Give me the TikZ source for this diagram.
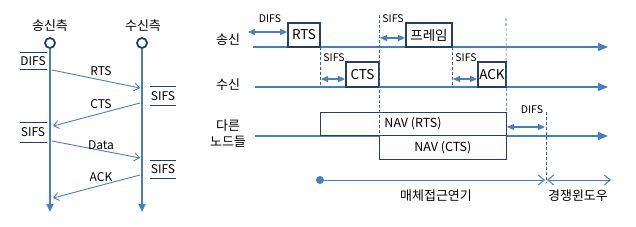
\documentclass[tikz,border=0pt]{standalone}
\usepackage{fontspec}
\setmainfont{Noto Sans CJK KR}
\usetikzlibrary{arrows.meta}
\definecolor{lineblue}{HTML}{4A7EBB}
\definecolor{boxnavy}{HTML}{243F60}
\tikzset{
  lbl/.style={font=\fontsize{13}{13}\selectfont,inner sep=0pt},
  small/.style={font=\fontsize{12}{12}\selectfont,inner sep=0pt},
  tiny/.style={font=\fontsize{10.5}{10.5}\selectfont,inner sep=0pt},
  msg/.style={lineblue,line width=0.9pt,-{Straight Barb[length=5pt,width=8pt]}},
  life/.style={lineblue,line width=2pt,-{Triangle[length=8pt,width=7pt]}},
  gap/.style={boxnavy,line width=0.8pt},
  axis/.style={lineblue,line width=1.2pt,-{Triangle[length=10pt,width=8pt]}},
  span/.style={lineblue,line width=1.2pt,{Triangle[length=7pt,width=6pt]}-{Triangle[length=7pt,width=6pt]}},
  frame/.style={draw=boxnavy,line width=1.8pt,inner sep=0pt,font=\fontsize{13.5}{13.5}\selectfont},
  nav/.style={draw=boxnavy,line width=0.8pt,inner sep=0pt,font=\fontsize{12.5}{12.5}\selectfont},
  vmark/.style={lineblue!80!black,line width=0.6pt,dash pattern=on 3pt off 2pt},
  openspan/.style={lineblue,line width=1pt,{Straight Barb[length=6pt,width=10pt]}-{Straight Barb[length=6pt,width=10pt]}}
}
\begin{document}
\begin{tikzpicture}[x=1pt,y=-1pt]
\useasboundingbox (0,0) rectangle (636,227);
% sender / receiver lifelines
\node[lbl] (snd) at (50,26) {송신측};
\node[lbl] (rcv) at (143,26) {수신측};
\node[circle,draw=boxnavy,line width=1.8pt,minimum size=10pt,inner sep=0pt] (sc) at (50,43) {};
\node[circle,draw=boxnavy,line width=1.8pt,minimum size=10pt,inner sep=0pt] (rc) at (142,43) {};
\coordinate (send) at (50,212);
\coordinate (rend) at (142,212);
\draw[life] (sc) -- (send);
\draw[life] (rc) -- (rend);
% interframe spaces
\draw[gap] (20,52) -- (47,52) (20,69) -- (47,69);
\node[small] (difsl) at (33,61) {DIFS};
\draw[gap] (150,86) -- (176,86) (150,105) -- (176,105);
\node[small] (sifsr1) at (163,96) {SIFS};
\draw[gap] (20,122) -- (47,122) (20,142) -- (47,142);
\node[small] (sifsl) at (33,132) {SIFS};
\draw[gap] (150,160) -- (176,160) (150,178) -- (176,178);
\node[small] (sifsr2) at (163,169) {SIFS};
% messages
\coordinate (m1a) at (52,70); \coordinate (m1b) at (140,88);
\coordinate (m2a) at (140,103); \coordinate (m2b) at (53,126);
\coordinate (m3a) at (52,141); \coordinate (m3b) at (140,158);
\coordinate (m4a) at (140,175); \coordinate (m4b) at (53,198);
\draw[msg] (m1a) -- (m1b);
\draw[msg] (m2a) -- (m2b);
\draw[msg] (m3a) -- (m3b);
\draw[msg] (m4a) -- (m4b);
\node[small] (rts) at (101,71) {RTS};
\node[small] (cts) at (101,104) {CTS};
\node[small] (data) at (101,145) {Data};
\node[small] (ack) at (101,177) {ACK};
% timing diagram
\node[lbl] (tx) at (228,40) {송신};
\node[lbl] (rx) at (228,85) {수신};
\node[lbl,align=center] (oth) at (228,134) {다른\\[3pt]노드들};
\coordinate (txa) at (253,47); \coordinate (txb) at (608,47);
\coordinate (rxa) at (255,87); \coordinate (rxb) at (608,87);
\coordinate (ota) at (255,136); \coordinate (otb) at (608,136);
\draw[axis] (txa) -- (txb);
\draw[axis] (rxa) -- (rxb);
\draw[axis] (ota) -- (otb);
% frames
\node[frame,fill=white,minimum width=32pt,minimum height=24pt] (rtsf) at (304,35) {RTS};
\node[frame,fill=white,minimum width=33pt,minimum height=25pt] (ctsf) at (362.5,74.5) {CTS};
\node[frame,fill=white,minimum width=46pt,minimum height=24pt] (frm) at (429,35) {프레임};
\node[frame,fill=white,minimum width=28pt,minimum height=25pt] (ackf) at (492,74.5) {ACK};
\node[nav,fill=white,minimum width=186pt,minimum height=23pt] (navr) at (413,123.5) {NAV (RTS)};
\node[nav,fill=white,minimum width=127pt,minimum height=24pt,anchor=north west] (navc) at (navr.south west -| 379,0) {NAV (CTS)};
% dashed markers
\draw[vmark] (320,47) -- (320,87);
\draw[vmark] (379,15) -- (navc.north west);
\draw[vmark] (452,47) -- (452,87);
\draw[vmark] (506,18) -- (navr.north east);
\draw[vmark] (546,112) -- (546,183);
% spacing arrows
\draw[span] (248,32) -- (rtsf.west |- 0,32);
\node[tiny] (d1) at (270,19) {DIFS};
\draw[span] (321,79) -- (ctsf.west |- 0,79);
\node[tiny] (s1) at (334,58) {SIFS};
\draw[span] (380,38) -- (frm.west |- 0,38);
\node[tiny] (s2) at (393,19) {SIFS};
\draw[span] (453,79) -- (ackf.west |- 0,79);
\node[tiny] (s3) at (466,58) {SIFS};
\draw[span] (507,127) -- (545,127);
\node[tiny] (d2) at (532,110) {DIFS};
% medium access deferral and contention window
\fill[lineblue] (320,180) circle[radius=4];
\coordinate (dfa) at (320,180); \coordinate (dfb) at (545,180);
\coordinate (cwb) at (611,180);
\draw[lineblue,line width=1pt,-{Straight Barb[length=6pt,width=10pt]}] (dfa) -- (dfb);
\draw[openspan] (547,180) -- (cwb);
\node[lbl] (defer) at (436,196) {매체접근연기};
\node[lbl] (cw) at (578,196) {경쟁윈도우};
\end{tikzpicture}
\end{document}
